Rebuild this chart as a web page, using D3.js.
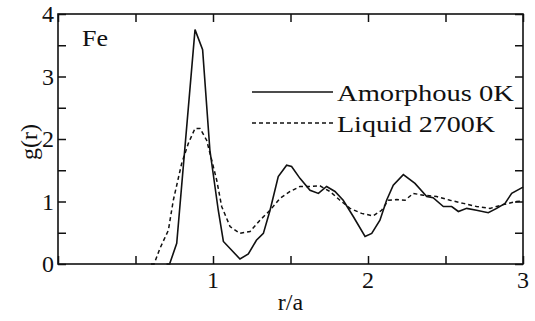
<!doctype html>
<html>
<head><meta charset="utf-8"><script src="https://d3js.org/d3.v7.min.js"></script></head>
<body style="margin:0">
<div id="chart"></div>
<script>
// r/a values and g(r)
var amorphR = [0.70, 0.72, 0.766, 0.884, 0.933, 0.98, 1.034, 1.067, 1.174, 1.228, 1.28, 1.325, 1.368, 1.421, 1.475, 1.507, 1.561, 1.626, 1.68, 1.733, 1.787, 1.84, 1.905, 1.981, 2.024, 2.077, 2.12, 2.163, 2.228, 2.303, 2.379, 2.42, 2.486, 2.54, 2.583, 2.637, 2.70, 2.776, 2.83, 2.884, 2.927, 3.0];
var amorphG = [0, 0, 0.33, 3.75, 3.43, 1.82, 0.86, 0.36, 0.08, 0.16, 0.38, 0.49, 0.86, 1.40, 1.58, 1.56, 1.37, 1.18, 1.13, 1.24, 1.16, 1.02, 0.76, 0.44, 0.49, 0.70, 1.02, 1.26, 1.43, 1.29, 1.08, 1.06, 0.92, 0.92, 0.84, 0.89, 0.86, 0.82, 0.89, 0.97, 1.13, 1.23];
var liquidR = [0.60, 0.62, 0.658, 0.712, 0.744, 0.798, 0.841, 0.884, 0.916, 0.959, 0.992, 1.024, 1.056, 1.11, 1.174, 1.239, 1.303, 1.368, 1.432, 1.497, 1.561, 1.626, 1.69, 1.755, 1.819, 1.884, 1.959, 2.034, 2.088, 2.131, 2.185, 2.239, 2.292, 2.357, 2.443, 2.529, 2.615, 2.70, 2.787, 2.873, 2.959, 3.0];
var liquidG = [0, 0, 0.25, 0.54, 1.02, 1.61, 1.93, 2.17, 2.17, 1.98, 1.66, 1.34, 0.92, 0.60, 0.49, 0.52, 0.70, 0.86, 1.05, 1.16, 1.24, 1.24, 1.25, 1.16, 1.02, 0.89, 0.81, 0.77, 0.86, 1.02, 1.03, 1.02, 1.13, 1.10, 1.08, 1.02, 0.97, 0.92, 0.89, 0.95, 1.00, 1.01];
var xLabels = [1, 2, 3];
var yLabels = [0, 1, 2, 3, 4];
var seriesNames = ["Amorphous 0K", "Liquid 2700K"];

var width = 535, height = 321;
var margin = {top: 14, right: 12, bottom: 57, left: 58};
var w = width - margin.left - margin.right,
    h = height - margin.top - margin.bottom;

var svg = d3.select("#chart").append("svg")
    .attr("width", width)
    .attr("height", height)
    .style("font-family", "'Liberation Serif'");
var g = svg.append("g")
    .attr("transform", "translate(" + margin.left + "," + margin.top + ")");

var x = d3.scaleLinear().domain([0, 3]).range([0, w]);
var y = d3.scaleLinear().domain([0, 4]).range([h, 0]);

var halfTicksX = d3.range(0, 3.01, 0.5);
var halfTicksY = d3.range(0, 4.01, 0.5);
var tk = 8;

// put a serif label into the chart
function label(parent, str) {
  return parent.append("text").attr("font-size", 24).attr("fill", "#111")
    .style("font-family", "'Liberation Serif'").text(str);
}
function style(sel) {
  sel.select(".domain").remove();
  sel.selectAll("text").remove();
  sel.selectAll("line").attr("stroke", "#111").attr("stroke-width", 1.5);
}

// tick marks on all four sides, pointing inward
g.append("g").attr("transform", "translate(0," + h + ")")
  .call(d3.axisBottom(x).tickValues(halfTicksX).tickSize(-tk)).call(style);
g.append("g")
  .call(d3.axisTop(x).tickValues(halfTicksX).tickSize(-tk)).call(style);
g.append("g")
  .call(d3.axisLeft(y).tickValues(halfTicksY).tickSize(-tk)).call(style);
g.append("g").attr("transform", "translate(" + w + ",0)")
  .call(d3.axisRight(y).tickValues(halfTicksY).tickSize(-tk)).call(style);

// tick labels
xLabels.forEach(function(v) {
  label(g, v).attr("x", x(v)).attr("y", h + 24).attr("text-anchor", "middle");
});
yLabels.forEach(function(v) {
  label(g, v).attr("x", -4).attr("y", y(v) + 8).attr("text-anchor", "end");
});

g.append("rect")
  .attr("width", w).attr("height", h)
  .attr("fill", "none").attr("stroke", "#111").attr("stroke-width", 1.6);

var line = d3.line()
  .x(function(d) { return x(d[0]); })
  .y(function(d) { return y(d[1]); });

g.append("path")
  .datum(liquidR.map(function(r, i) { return [r, liquidG[i]]; }))
  .attr("d", line)
  .attr("fill", "none").attr("stroke", "#111").attr("stroke-width", 1.5)
  .attr("stroke-dasharray", "4,3");

g.append("path")
  .datum(amorphR.map(function(r, i) { return [r, amorphG[i]]; }))
  .attr("d", line)
  .attr("fill", "none").attr("stroke", "#111").attr("stroke-width", 1.6);

// legend
[0, 1].forEach(function(i) {
  var ly = 78 + i * 31;
  g.append("line")
    .attr("x1", 194).attr("x2", 275).attr("y1", ly).attr("y2", ly)
    .attr("stroke", "#111").attr("stroke-width", 1.5)
    .attr("stroke-dasharray", i === 1 ? "4,3" : null);
  label(g, seriesNames[i])
    .attr("x", 279).attr("y", ly + 9)
    .attr("textLength", i === 0 ? 177 : 158)
    .attr("lengthAdjust", "spacingAndGlyphs");
});

label(g, "Fe").attr("x", 24).attr("y", 32)
  .attr("textLength", 26).attr("lengthAdjust", "spacingAndGlyphs");

// axis titles
label(svg, "r/a").attr("x", margin.left + x(1.5)).attr("y", 310)
  .attr("text-anchor", "middle");
label(svg, "g(r)").attr("transform", "translate(37,142) rotate(-90)")
  .attr("text-anchor", "middle");
</script>
</body>
</html>
